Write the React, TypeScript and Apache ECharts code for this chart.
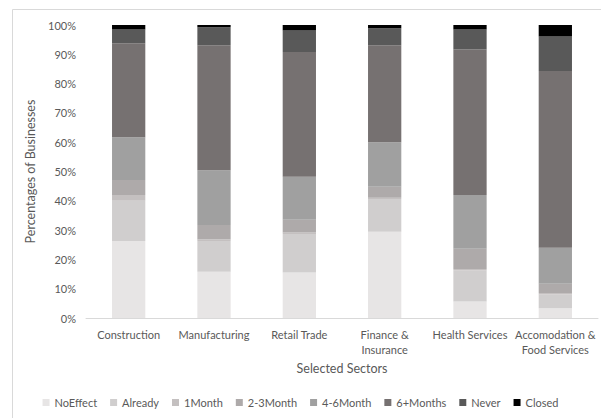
import React, { useEffect, useRef } from "react";
import * as echarts from "echarts";

const categories = [
  "Construction",
  "Manufacturing",
  "Retail Trade",
  "Finance &\nInsurance",
  "Health Services",
  "Accomodation &\nFood Services",
];

const seriesNames = ["NoEffect", "Already", "1Month", "2-3Month", "4-6Month", "6+Months", "Never", "Closed"];
const seriesColors = ["#e7e5e5", "#d0cece", "#c4c0c0", "#aeaaaa", "#a0a0a0", "#767171", "#595959", "#000000"];

const noEffect = [26.3, 15.8, 15.5, 29.4, 5.6, 3.3];
const already = [13.7, 10.5, 13.2, 11.2, 10.7, 4.8];
const oneMonth = [2.0, 0.6, 0.5, 0.4, 0.4, 0.4];
const twoThreeMonth = [5.1, 4.8, 4.3, 3.8, 6.9, 3.2];
const fourSixMonth = [14.6, 18.7, 14.7, 15.2, 18.4, 12.3];
const sixPlusMonths = [32.1, 42.7, 42.6, 33.1, 49.6, 60.3];
const never = [4.7, 6.1, 7.3, 5.8, 6.9, 11.8];
const closed = [1.5, 0.8, 1.9, 1.1, 1.5, 3.9];

const seriesValues = [noEffect, already, oneMonth, twoThreeMonth, fourSixMonth, sixPlusMonths, never, closed];

const FONT = "Lato, 'Open Sans', sans-serif";

export default function App() {
  const ref = useRef<HTMLDivElement>(null);
  useEffect(() => {
    if (!ref.current) return;
    const chart = echarts.init(ref.current, undefined, { renderer: "svg" });
    chart.setOption({
      animation: false,
      backgroundColor: "#ffffff",
      textStyle: { fontFamily: FONT },
      graphic: [
        {
          type: "rect",
          shape: { x: 12.5, y: 9.5, width: 620, height: 440 },
          style: { fill: "none", stroke: "#d9d9d9", lineWidth: 1 },
          silent: true,
        },
      ],
      grid: { left: 86, right: 3, top: 25, bottom: 100, containLabel: false },
      legend: {
        top: 392,
        left: "center",
        itemWidth: 7,
        itemHeight: 7,
        itemGap: 13,
        icon: "rect",
        textStyle: { color: "#595959", fontSize: 11, fontFamily: FONT },
        data: seriesNames,
      },
      xAxis: {
        type: "category",
        data: categories,
        name: "Selected Sectors",
        nameLocation: "middle",
        nameGap: 43,
        nameTextStyle: { color: "#595959", fontSize: 12.5, fontFamily: FONT },
        axisLine: { show: true, lineStyle: { color: "#d9d9d9" } },
        axisTick: { show: false },
        axisLabel: { color: "#595959", fontSize: 11, fontFamily: FONT, margin: 9, lineHeight: 15, interval: 0 },
      },
      yAxis: {
        type: "value",
        min: 0,
        max: 100,
        interval: 10,
        name: "Percentages of Businesses",
        nameLocation: "middle",
        nameGap: 46,
        nameTextStyle: { color: "#595959", fontSize: 12.5, fontFamily: FONT },
        axisLine: { show: false },
        axisTick: { show: false },
        splitLine: { show: false },
        axisLabel: { color: "#595959", fontSize: 11, fontFamily: FONT, formatter: "{value}%", margin: 10 },
      },
      series: seriesNames.map((name, i) => ({
        name,
        type: "bar",
        stack: "total",
        barWidth: "39%",
        data: seriesValues[i],
        itemStyle: { color: seriesColors[i] },
      })),
    });
    return () => chart.dispose();
  }, []);
  return <div ref={ref} style={{ position: "fixed", left: 0, top: 0, width: 601, height: 418 }} />;
}
